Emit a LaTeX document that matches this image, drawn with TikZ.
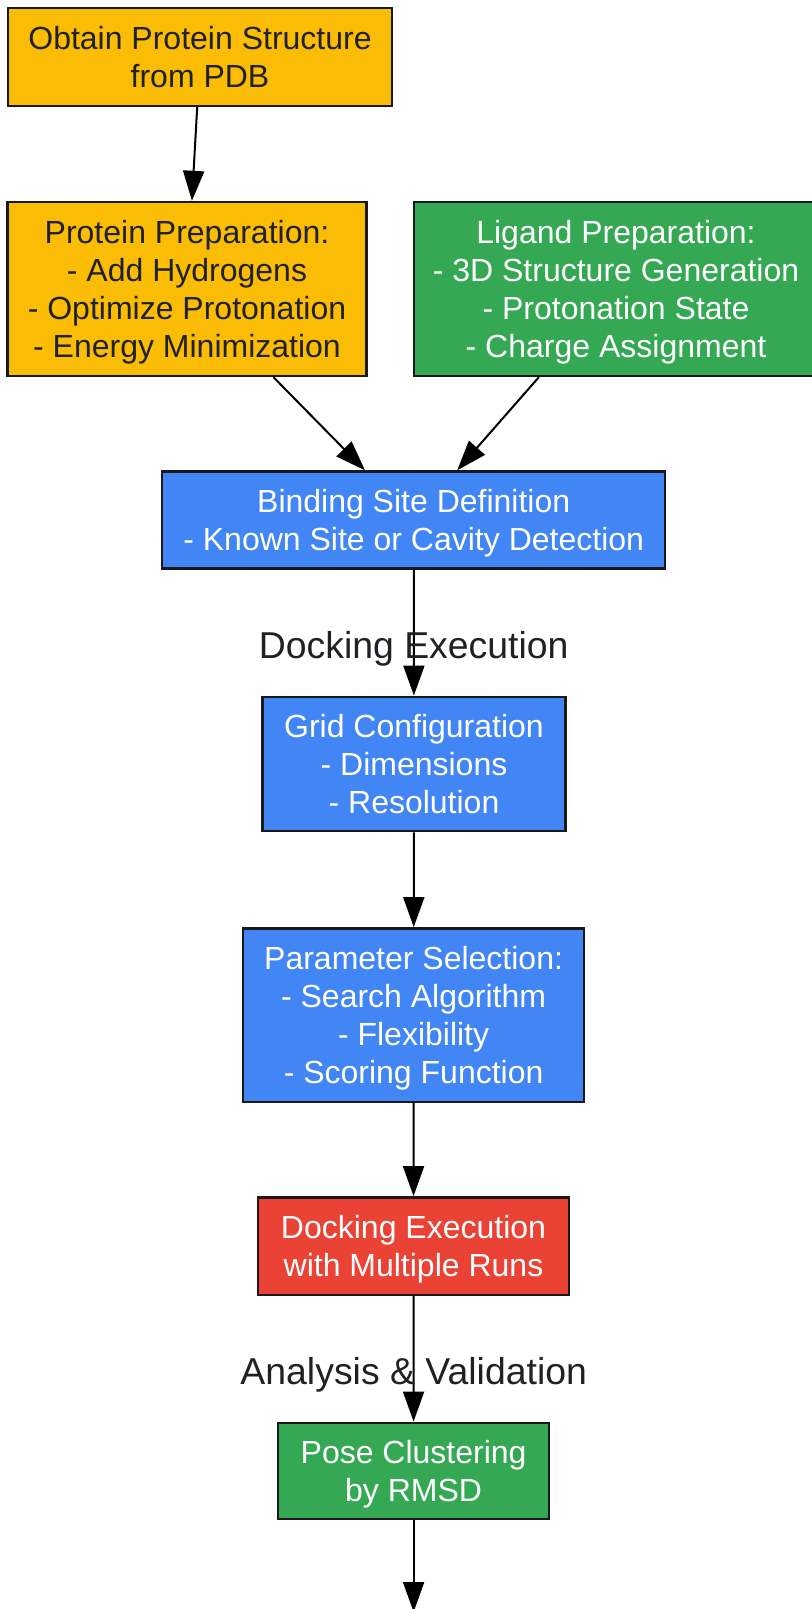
\documentclass[tikz,border=0pt]{standalone}
\usepackage{fontspec}
\setmainfont{Liberation Sans}
\usetikzlibrary{arrows.meta}
\definecolor{gyellow}{HTML}{FBBC05}
\definecolor{ggreen}{HTML}{34A853}
\definecolor{gblue}{HTML}{4285F4}
\definecolor{gred}{HTML}{EA4335}
\definecolor{gtext}{HTML}{202124}
% lines of a box, set a little low as in the picture
\newcommand{\boxlines}[1]{\raisebox{-2pt}[\height][\depth]{\begin{tabular}{@{}c@{}}#1\end{tabular}}}
\begin{document}
\begin{tikzpicture}[x=0.5pt,y=-0.5pt,
  box/.style={draw=black!90,line width=1.2pt,inner sep=0pt,font=\fontsize{16}{19}\selectfont},
  lbl/.style={text=gtext,font=\fontsize{18.7}{22}\selectfont},
  arr/.style={line width=1pt,-{Triangle[length=15pt,width=10.5pt]}}]
\useasboundingbox (0,0) rectangle (812,1609);
\node[box,fill=gyellow,text=gtext,minimum width=192pt,minimum height=48.75pt] (obtain) at (200,57) {\boxlines{Obtain Protein Structure\\from PDB}};
\node[box,fill=gyellow,text=gtext,minimum width=179.5pt,minimum height=87pt] (protein) at (187,289) {\boxlines{Protein Preparation:\\- Add Hydrogens\\- Optimize Protonation\\- Energy Minimization}};
\node[box,fill=ggreen,text=white,minimum width=202pt,minimum height=87pt] (ligand) at (616,289) {\boxlines{Ligand Preparation:\\- 3D Structure Generation\\- Protonation State\\- Charge Assignment}};
\node[box,fill=gblue,text=white,minimum width=251.5pt,minimum height=48.5pt] (binding) at (413.7,520) {\boxlines{Binding Site Definition\\- Known Site or Cavity Detection}};
\node[box,fill=gblue,text=white,minimum width=151.5pt,minimum height=67.25pt] (grid) at (414,764) {\boxlines{Grid Configuration\\- Dimensions\\- Resolution}};
\node[box,fill=gblue,text=white,minimum width=170.5pt,minimum height=86.7pt] (param) at (413.6,1015) {\boxlines{Parameter Selection:\\- Search Algorithm\\- Flexibility\\- Scoring Function}};
\node[box,fill=gred,text=white,minimum width=155.5pt,minimum height=48.7pt] (dock) at (413.5,1246) {\boxlines{Docking Execution\\with Multiple Runs}};
\node[box,fill=ggreen,text=white,minimum width=135.5pt,minimum height=48.25pt] (pose) at (413.6,1471) {\boxlines{Pose Clustering\\by RMSD}};
\coordinate (next) at (413.6,1612);

\draw[arr] (obtain) edge (protein);
\draw[arr] (protein) edge (binding);
\draw[arr] (ligand) edge (binding);
\draw[arr] (binding) edge (grid);
\draw[arr] (grid) edge (param);
\draw[arr] (param) edge (dock);
\draw[arr] (dock) edge (pose);
\draw[arr] (pose) edge (next);

\node[lbl] (dockingphase) at (413.7,648.7) {Docking Execution};
\node[lbl] (analysisphase) at (413.7,1374.4) {Analysis \& Validation};
\end{tikzpicture}
\end{document}
